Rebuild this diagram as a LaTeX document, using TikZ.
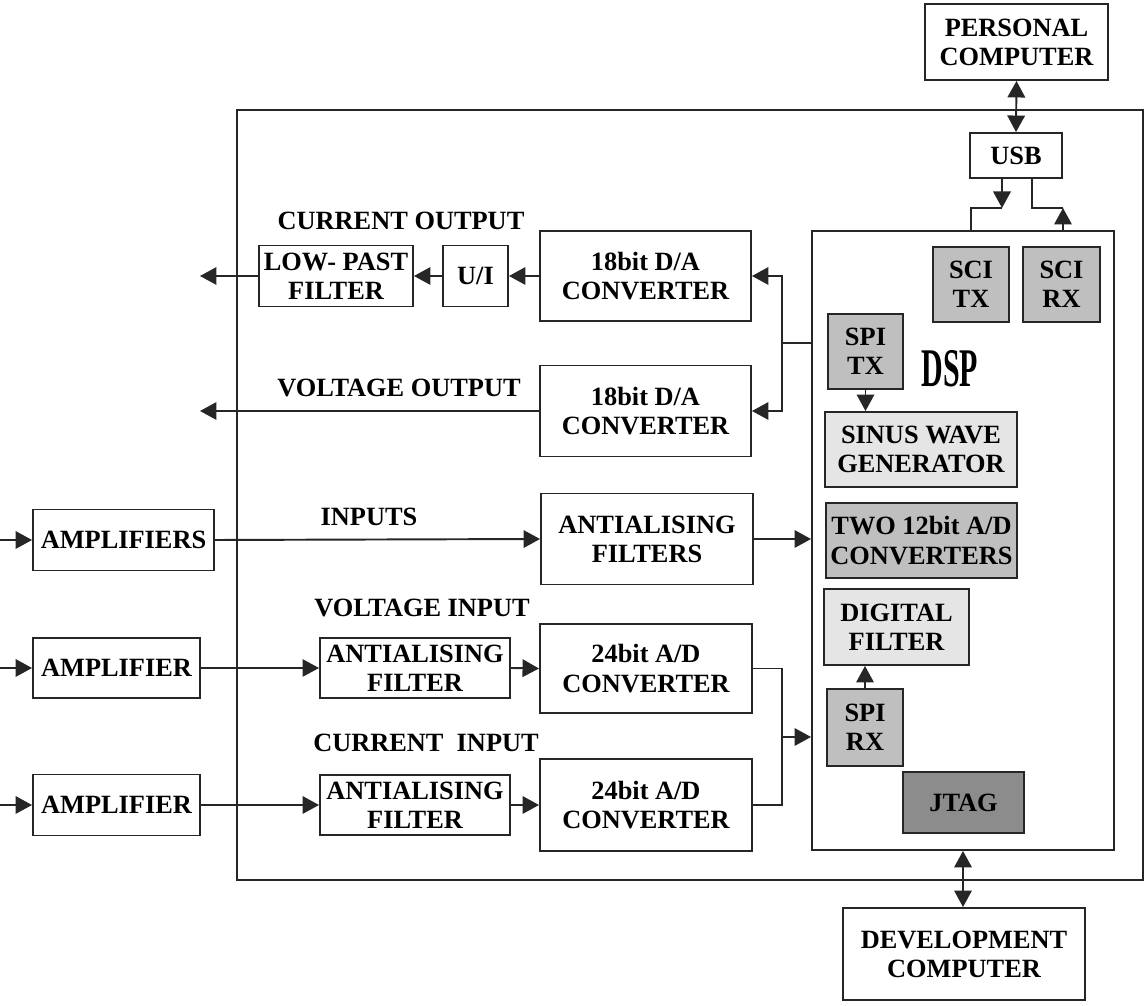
\documentclass[tikz,border=0pt]{standalone}
\usepackage{fontspec}
\setmainfont{Liberation Serif}
\usetikzlibrary{arrows.meta,positioning}

\begin{document}
\begin{tikzpicture}[x=0.02cm, y=-0.02cm, line width=1.1pt, color=black!85, >={Triangle[length=0.33cm,width=0.35cm]},
block node/.style={rectangle,draw,fill=white,text=black,align=center,inner sep=0pt,font=\bfseries\fontsize{15}{16.6}\selectfont},
wh/.style 2 args={minimum width=#1*0.02cm,minimum height=#2*0.02cm},
label node/.style={inner sep=0pt,text=black,font=\bfseries\fontsize{15}{16.6}\selectfont}]
\useasboundingbox (0,0) rectangle (1144,1006);
\begin{scope}[every node/.style={block node}]
\node[wh={906}{770},fill=none] (board) at (690,495) {};
\node[wh={302}{619}] (dsp) at (963,540.5) {};
\node[wh={183}{76}] (pc) at (1016.5,42) {PERSONAL\\COMPUTER};
\node[wh={92}{45}] (usb) at (1016,155.5) {USB};
\node[wh={76}{75},fill=black!25] (scitx) at (971,284.5) {SCI\\TX};
\node[wh={77}{75},fill=black!25] (scirx) at (1061.5,284.5) {SCI\\RX};
\node[wh={75}{75},fill=black!25] (spitx) at (865.5,351.5) {SPI\\TX};
\node[wh={192}{75},fill=black!10] (sinus) at (921,449.5) {SINUS WAVE\\GENERATOR};
\node[wh={191}{75},fill=black!25] (twoad) at (921.5,540.5) {TWO 12bit A/D\\CONVERTERS};
\node[wh={145}{76},fill=black!10] (digf) at (896.5,627) {DIGITAL\\FILTER};
\node[wh={76}{77},fill=black!25] (spirx) at (865,727.5) {SPI\\RX};
\node[wh={121}{61},fill=black!45] (jtag) at (963.5,802.5) {JTAG};
\node[wh={242}{92}] (dev) at (964,954) {DEVELOPMENT\\COMPUTER};
\node[wh={154}{61}] (lpf) at (336,276) {LOW- PAST\\FILTER};
\node[wh={65}{61}] (ui) at (475.5,276) {U/I};
\node[wh={211}{90}] (da1) at (645.5,276) {18bit D/A\\CONVERTER};
\node[wh={211}{91}] (da2) at (645.5,411) {18bit D/A\\CONVERTER};
\node[wh={181}{61}] (amps) at (123.5,540) {AMPLIFIERS};
\node[wh={212}{91}] (af) at (647,539) {ANTIALISING\\FILTERS};
\node[wh={167}{60}] (amp1) at (116.5,668) {AMPLIFIER};
\node[wh={190}{60}] (aaf1) at (415,668) {ANTIALISING\\FILTER};
\node[wh={212}{89}] (adc1) at (646,668.5) {24bit A/D\\CONVERTER};
\node[wh={167}{61}] (amp2) at (116.5,805) {AMPLIFIER};
\node[wh={190}{60}] (aaf2) at (415,805) {ANTIALISING\\FILTER};
\node[wh={212}{92}] (adc2) at (646,805) {24bit A/D\\CONVERTER};
\end{scope}
\begin{scope}[every node/.style={label node}]
\node (dsplbl) at (950,369) {\scalebox{0.55}[1]{\fontsize{31}{31}\selectfont DSP}};
\node (lcout) at (401,221) {CURRENT OUTPUT};
\node (lvout) at (399,388) {VOLTAGE OUTPUT};
\node (linp) at (369,517) {INPUTS};
\node (lvin) at (422,608) {VOLTAGE INPUT};
\node (lcin) at (426,743) {CURRENT\ \ INPUT};
\end{scope}
\coordinate (txk) at (1002,208);
\coordinate (rxu) at (1032,208);
\coordinate (rxk) at (1063,208);
\coordinate (bus) at (782,343);
\coordinate (adbus) at (782,737);
\coordinate (cout) at (200,276);
\coordinate (vout) at (200,411);
\coordinate (in0) at (0,540);
\coordinate (in1) at (0,668);
\coordinate (in2) at (0,805);
%\draw (a) -- (b);
\draw[<->] (pc.south) -- (usb.north);
\draw[->] (usb.south -| txk) -- (txk);
\draw (txk) -| (scitx |- dsp.north);
\draw (usb.south -| rxu) -- (rxu) -- (rxk);
\draw[->] (rxk |- dsp.north) -- (rxk);
\draw[->] (spitx.south) -- (spitx.south |- sinus.north);
\draw[->] (spirx.north) -- (spirx.north |- digf.south);
\draw[<->] (dev.north -| dsp.south) -- (dsp.south);
\draw[->] (da1.west) -- (ui.east);
\draw[->] (ui.west) -- (lpf.east);
\draw[->] (lpf.west) -- (cout);
\draw[->] (da2.west) -- (vout);
\draw (dsp.west |- bus) -- (bus);
\draw[->] (bus) |- (da1.east);
\draw[->] (bus) |- (da2.east);
\draw[->] (in0) -- (amps.west);
\draw[->] (amps.east) -- (af.west);
\draw[->] (af.east) -- (af.east -| dsp.west);
\draw[->] (in1) -- (amp1.west);
\draw[->,line width=0.6pt] (amp1.east) -- (aaf1.west);
\draw[->] (aaf1.east) -- (adc1.west);
\draw[line width=0.6pt] (adc1.east) -| (adbus);
\draw[->] (in2) -- (amp2.west);
\draw[->] (amp2.east) -- (aaf2.west);
\draw[->] (aaf2.east) -- (adc2.west);
\draw (adc2.east) -| (adbus);
\draw[->] (adbus) -- (adbus -| dsp.west);
\end{tikzpicture}
\end{document}
